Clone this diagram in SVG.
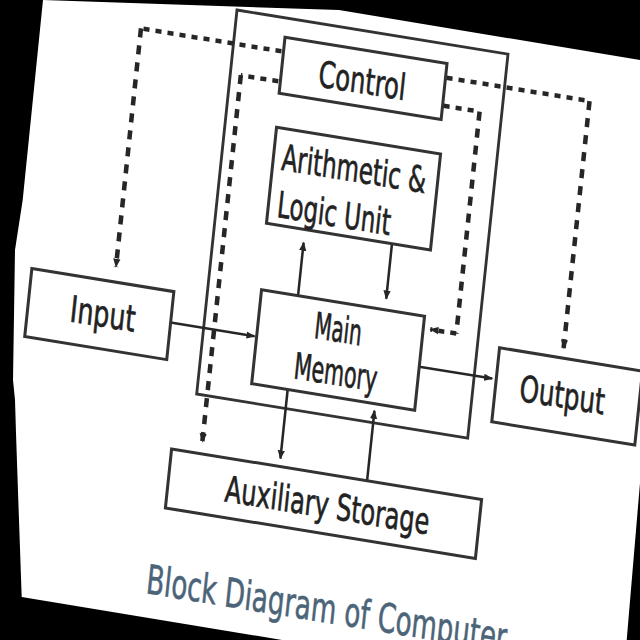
<svg xmlns="http://www.w3.org/2000/svg" width="640" height="640" viewBox="0 0 640 640">
<defs>
<style>
.box{fill:#fff;stroke:#333;stroke-width:3}
.frame{fill:none;stroke:#333;stroke-width:2.8}
.lbl{font-family:"DejaVu Sans","Liberation Sans",sans-serif;font-size:36px;fill:#222;stroke:#222;stroke-width:0.7}
.title{font-family:"DejaVu Sans","Liberation Sans",sans-serif;font-size:40px;fill:#4b6478;stroke:#4b6478;stroke-width:0.6}
.dash{fill:none;stroke:#262626;stroke-width:4.5}
.dh{stroke-dasharray:6 6}
.dv{stroke-dasharray:9 8}
.solid{fill:none;stroke:#262626;stroke-width:2.5}
</style>
<marker id="ah" viewBox="0 0 10 10" refX="9" refY="5" markerUnits="userSpaceOnUse" markerWidth="9" markerHeight="9" orient="auto">
<path d="M0,1 L10,5 L0,9 z" fill="#262626"/>
</marker>
<clipPath id="paperClip" clipPathUnits="userSpaceOnUse">
<polygon points="43,0 339,10 640,60 640,483 626.7,640 282,640 21.7,597 18.3,500 16,433 15,400 13,380 15,250 22.7,200"/>
</clipPath>
</defs>
<rect x="0" y="0" width="640" height="640" fill="#000"/>
<polygon points="43,0 339,10 640,60 640,483 626.7,640 282,640 21.7,597 18.3,500 16,433 15,400 13,380 15,250 22.7,200" fill="#fff"/>
<g clip-path="url(#paperClip)">
<g transform="matrix(1 0.163 -0.105 1 237 10)">
<g id="cpu-frame"><rect class="frame" x="0" y="0" width="271" height="384"/></g>
<g id="connectors">
<path class="dash dh" d="M48,33.5 H-92.5"/>
<path class="dash dv" d="M-92.5,33.5 V272" marker-end="url(#ah)"/>
<path class="dash dh" d="M48,63.5 H10.5"/>
<path class="dash dv" d="M10.5,63.5 V430" marker-end="url(#ah)"/>
<path class="dash dh" d="M213,33 H356"/>
<path class="dash dv" d="M356,33 V280" marker-end="url(#ah)"/>
<path class="dash dh" d="M213,61 H249"/>
<path class="dash dv" d="M249,61 V283"/>
<path class="dash dh" d="M249,283 H223" marker-end="url(#ah)"/>
<path class="solid" d="M89.5,271 V218" marker-end="url(#ah)"/>
<path class="solid" d="M176.5,205 V260" marker-end="url(#ah)"/>
<path class="solid" d="M-33,318 H51" marker-end="url(#ah)"/>
<path class="solid" d="M216,321.5 H289" marker-end="url(#ah)"/>
<path class="solid" d="M89,365 V434" marker-end="url(#ah)"/>
<path class="solid" d="M176.5,442 V372" marker-end="url(#ah)"/>
</g>
<g id="control"><rect class="box" x="50" y="19" width="162" height="56"/><text class="lbl" x="87" y="62" textLength="87" lengthAdjust="spacingAndGlyphs">Control</text></g>
<g id="alu"><rect class="box" x="51" y="109" width="164" height="96"/><text class="lbl" x="59.5" y="150" textLength="144" lengthAdjust="spacingAndGlyphs">Arithmetic &amp;</text><text class="lbl" x="60" y="197" textLength="113" lengthAdjust="spacingAndGlyphs">Logic Unit</text></g>
<g id="input"><rect class="box" x="-175" y="287" width="142" height="68"/><text class="lbl" x="-133" y="333" textLength="65" lengthAdjust="spacingAndGlyphs">Input</text></g>
<g id="main-memory"><rect class="box" x="53" y="271" width="163" height="94"/><text class="lbl" x="109" y="310" textLength="47" lengthAdjust="spacingAndGlyphs">Main</text><text class="lbl" x="93" y="353" textLength="83" lengthAdjust="spacingAndGlyphs">Memory</text></g>
<g id="output"><rect class="box" x="293" y="290" width="143" height="74"/><text class="lbl" x="317" y="339" textLength="85" lengthAdjust="spacingAndGlyphs">Output</text></g>
<g id="auxiliary-storage"><rect class="box" x="-19" y="442" width="310" height="59"/><text class="lbl" x="38" y="485" textLength="204" lengthAdjust="spacingAndGlyphs">Auxiliary Storage</text></g>
<g id="title"><text class="title" x="-30" y="588" textLength="360" lengthAdjust="spacingAndGlyphs">Block Diagram of Computer</text></g>
</g>
</g>
</svg>
